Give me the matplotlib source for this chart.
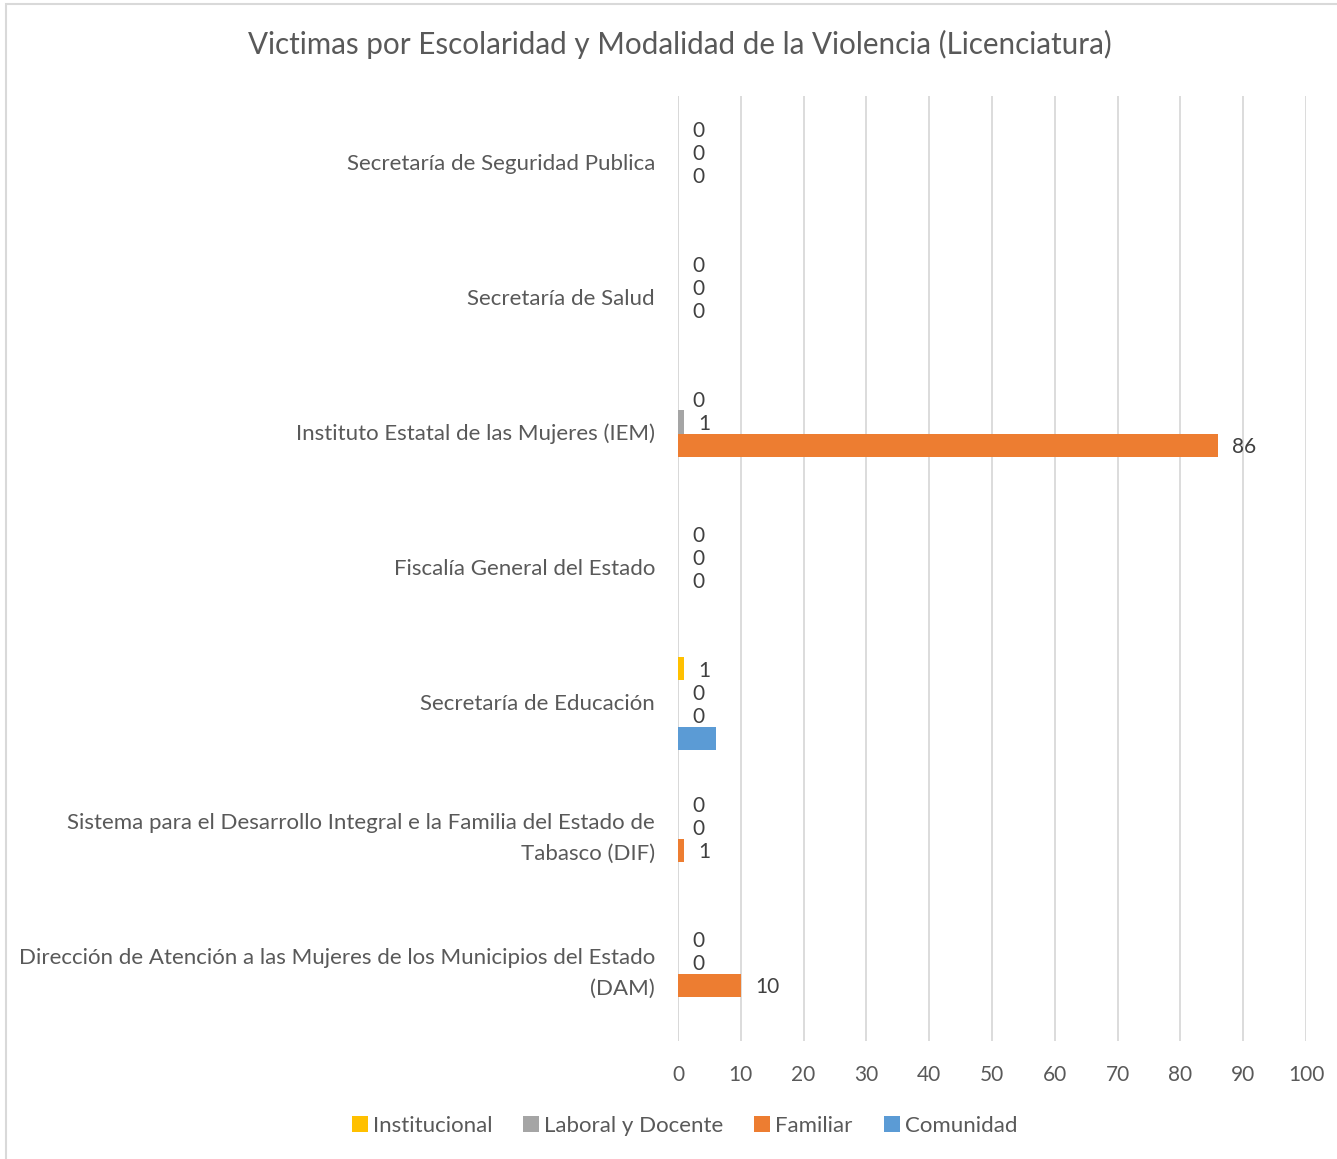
import matplotlib
matplotlib.use("Agg")
import matplotlib.pyplot as plt
import numpy as np
from matplotlib.patches import Rectangle

categories = [
    "Secretaría de Seguridad Publica",
    "Secretaría de Salud",
    "Instituto Estatal de las Mujeres (IEM)",
    "Fiscalía General del Estado",
    "Secretaría de Educación",
    "Sistema para el Desarrollo Integral e la Familia del Estado de\nTabasco (DIF)",
    "Dirección de Atención a las Mujeres de los Municipios del Estado\n(DAM)",
]
series_names = ["Institucional", "Laboral y Docente", "Familiar", "Comunidad"]
institucional = [0, 0, 0, 0, 1, 0, 0]
laboral = [0, 0, 1, 0, 0, 0, 0]
familiar = [0, 0, 86, 0, 0, 1, 10]
comunidad = [0, 0, 0, 0, 6, 0, 0]
xticks = [0, 10, 20, 30, 40, 50, 60, 70, 80, 90, 100]

colors = ["#FFC000", "#A5A5A5", "#ED7D31", "#5B9BD5"]
show_labels = [True, True, True, False]
txt = "#595959"
font = "Lato"

W, H = 1337, 1159
fig = plt.figure(figsize=(W / 100, H / 100), dpi=100)
ax = fig.add_axes([678 / W, 1 - 1041 / H, (1306 - 678) / W, (1041 - 96) / H])

y = np.arange(len(categories))
h = 23.3 / 135
data = [institucional, laboral, familiar, comunidad]
for i, (name, vals, c, lab) in enumerate(zip(series_names, data, colors, show_labels)):
    off = (i - 1.5) * h
    ax.barh(y + off, vals, height=h, color=c, label=name, zorder=3)
    if lab:
        for yy, v in zip(y + off, vals):
            ax.annotate(str(v), xy=(v, yy), xytext=(10.3, -1.5), textcoords="offset points",
                        ha="left", va="center", fontsize=15, color="#404040", family=font)

ax.set_xlim(0, 100)
ax.set_ylim(len(categories) - 0.5, -0.5)
ax.set_xticks(xticks)
ax.set_xticklabels([str(t) for t in xticks], fontsize=15, color=txt, family=font)
ax.set_yticks(y)
ax.set_yticklabels(categories, fontsize=16, color=txt, family=font, linespacing=1.67)
for t in ax.get_yticklabels():
    t.set_va("center")
ax.tick_params(axis="both", length=0)
ax.tick_params(axis="y", pad=16.5)
ax.tick_params(axis="x", pad=17)
ax.grid(axis="x", color="#D9D9D9", linewidth=1.3, zorder=0)
for s in ["top", "right", "bottom", "left"]:
    ax.spines[s].set_visible(False)
ax.axvline(0, color="#D9D9D9", linewidth=1.3, zorder=1)

fig.text(679.5 / W, 1 - 44 / H, "Victimas por Escolaridad y Modalidad de la Violencia (Licenciatura)",
         ha="center", va="center", fontsize=21.3, color=txt, family=font)

leg = fig.legend(loc="center", bbox_to_anchor=(684.5 / W, 1 - 1126 / H), ncol=4, frameon=False,
                 prop={"family": font, "size": 16}, handlelength=0.72, handleheight=0.72,
                 handletextpad=0.22, columnspacing=1.4)
for t in leg.get_texts():
    t.set_color(txt)

fig.patches.append(Rectangle((6 / W, -0.1), 1.2, 1 - 4 / H + 0.1, transform=fig.transFigure,
                             fill=False, edgecolor="#D9D9D9", linewidth=1.5))

fig.savefig("out.png", dpi=100)
